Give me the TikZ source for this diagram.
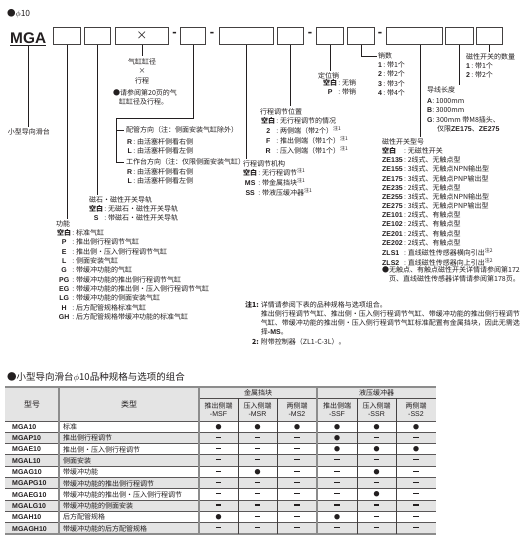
\documentclass[tikz,border=0pt]{standalone}
\usepackage{fontspec}
\setmainfont{Noto Sans CJK SC}
\newfontfamily\lb{Liberation Sans}
\definecolor{ink}{HTML}{231F20}
\definecolor{tgray}{HTML}{E4E4E4}
\definecolor{lgray}{HTML}{8C8C8C}
\newcommand\K[1]{{\lb\bfseries #1}}
\newcommand\Z[1]{\textsuperscript{注#1}}
\newcommand\kvc[1]{\begin{tabular}[t]{@{}c@{\hspace{1.2pt}:\hspace{1.8pt}}l@{}}#1\end{tabular}}
\newcommand\kvl[1]{\begin{tabular}[t]{@{}l@{\hspace{1.2pt}:\hspace{1.8pt}}l@{}}#1\end{tabular}}
\newcommand\onecol[1]{\begin{tabular}[t]{@{}l@{}}#1\end{tabular}}
\newcommand\cencol[1]{\begin{tabular}[t]{@{}c@{}}#1\end{tabular}}
\newcommand\nodash{\rule[1.9pt]{5.2pt}{1.2pt}}
\begin{document}
\begin{tikzpicture}[x=1pt,y=-1pt,
  txt/.style={font=\fontsize{7}{9.3}\selectfont, inner sep=0pt, anchor=base west, text=ink},
  cbox/.style={draw=ink!85, line width=0.8pt, minimum height=17pt, inner sep=0pt, anchor=north west},
  ln/.style={draw=ink, line width=0.6pt},
  lnend/.style={ln, shorten >=1.5pt},
  dsh/.style={font=\lb\bfseries\fontsize{13}{13}\selectfont, inner sep=0pt, text=ink},
  hd/.style={font=\fontsize{7}{8}\selectfont, inner sep=0pt, text=ink, align=center},
  cell/.style={font=\fontsize{7}{8}\selectfont, inner sep=0pt, text=ink},
  sym/.style={font=\fontsize{6}{6}\selectfont, inner sep=0pt, text=ink},
]
\useasboundingbox (0,0) rectangle (521,549);

% ---------- header ----------
\node[txt, font=\fontsize{8.5}{9}\selectfont] (phi) at (7,16.2) {●$\phi$10};
\node[font=\lb\bfseries\fontsize{15.4}{15.4}\selectfont, inner sep=0pt, anchor=base west, text=ink] (mga) at (10,43) {MGA};
\draw[ink, line width=1.1pt] ([yshift=-2.4pt]mga.south west) -- ([yshift=-2.4pt]mga.south east);
\coordinate (mgau) at ([yshift=-2.4pt]mga.south);

\node[cbox, minimum width=27pt] (b1) at (53,27) {};
\node[cbox, minimum width=26pt] (b2) at (84,27) {};
\node[cbox, minimum width=53pt, font=\fontsize{11}{11}\selectfont, text=ink] (b3) at (115,27) {×};
\node[dsh] (d1) at (174.5,34.5) {-};
\node[cbox, minimum width=25pt] (b4) at (180,27) {};
\node[dsh] (d2) at (212,34.5) {-};
\node[cbox, minimum width=54pt] (b5) at (219,27) {};
\node[cbox, minimum width=26pt] (b6) at (277,27) {};
\node[dsh] (d3) at (310,34.5) {-};
\node[cbox, minimum width=27pt] (b7) at (316,27) {};
\node[cbox, minimum width=27pt] (b8) at (347,27) {};
\node[dsh] (d4) at (380,34.5) {-};
\node[cbox, minimum width=56pt] (b9) at (386,27) {};
\node[cbox, minimum width=28pt] (b10) at (445,27) {};
\node[cbox, minimum width=26pt] (b11) at (476,27) {};

% ---------- MGA ----------
\node[txt, anchor=base] (lab0) at (29,134.6) {小型导向滑台};
\draw[lnend] (mgau) -- (mgau |- lab0.north);

% ---------- function ----------
\node[txt] (funcT) at (56,226.6) {功能};
\node[txt] (funcL) at (57,235.6) {\kvc{{\bfseries 空白}&标准气缸\\
 \K{P}&推出侧行程调节气缸\\
 \K{E}&推出侧·压入侧行程调节气缸\\
 \K{L}&侧面安装气缸\\
 \K{G}&带缓冲功能的气缸\\
 \K{PG}&带缓冲功能的推出侧行程调节气缸\\
 \K{EG}&带缓冲功能的推出侧·压入侧行程调节气缸\\
 \K{LG}&带缓冲功能的侧面安装气缸\\
 \K{H}&后方配管规格标准气缸\\
 \K{GH}&后方配管规格带缓冲功能的标准气缸}};
\draw[lnend] (b1.south) -- (b1.south |- funcT.north);

% ---------- magnet ----------
\node[txt] (magT) at (89,202.6) {磁石·磁性开关导轨};
\node[txt] (magL) at (89,211.6) {\kvc{{\bfseries 空白}&无磁石·磁性开关导轨\\ \K{S}&带磁石·磁性开关导轨}};
\draw[lnend] (b2.south) -- (b2.south |- magT.north);

% ---------- bore x stroke ----------
\node[txt, anchor=base] (boreT) at (142,64.6) {\cencol{气缸缸径\\×\\行程}};
\node[txt] (boreN) at (113,95.6) {\onecol{●请参阅第20页的气\\\hspace{6pt}缸缸径及行程。}};
\draw[lnend] (b3.south) -- (b3.south |- boreT.north);

% ---------- piping / table direction ----------
\coordinate (c4) at (116,118);
\node[txt] (pipeT) at (126,132.6) {配管方向（注：侧面安装气缸除外）};
\node[txt] (pipeL) at (127,144.4) {\kvc{\K{R}&由活塞杆侧看右侧\\ \K{L}&由活塞杆侧看左侧}};
\node[txt] (tableT) at (126,164.6) {工作台方向（注：仅限侧面安装气缸）};
\node[txt] (tableL) at (127,174.6) {\kvc{\K{R}&由活塞杆侧看右侧\\ \K{L}&由活塞杆侧看左侧}};
\draw[ln] (b4.south) |- (c4);
\draw[ln, shorten >=2.5pt] (c4) |- (pipeT.west);
\draw[ln, shorten >=2.5pt] (c4) |- (tableT.west);

% ---------- stroke adjust mechanism ----------
\node[txt] (mechT) at (243,166.6) {行程调节机构};
\node[txt] (mechL) at (243,175.6) {\kvc{{\bfseries 空白}&无行程调节\Z1\\ \K{MS}&带金属挡块\Z1\\ \K{SS}&带液压缓冲器\Z1}};
\draw[lnend] (b5.south) -- (b5.south |- mechT.north);

% ---------- stroke adjust position ----------
\node[txt] (posT) at (260,114.1) {行程调节位置};
\node[txt] (posL) at (261,123.4) {\kvc{{\bfseries 空白}&无行程调节的情况\\ \K{2}&两侧端（带2个）\Z1\\ \K{F}&推出侧端（带1个）\Z1\\ \K{R}&压入侧端（带1个）\Z1}};
\draw[lnend] (b6.south) -- (b6.south |- posT.north);

% ---------- locating pin ----------
\node[txt] (locT) at (318,78.6) {定位销};
\node[txt] (locL) at (323,85.4) {\kvc{{\bfseries 空白}&无销\\ \K{P}&带销}};
\draw[lnend] (b7.south) -- (b7.south |- locT.north);

% ---------- pin count ----------
\node[txt] (numT) at (378,58.6) {销数};
\node[txt] (numL) at (378,67.6) {\kvc{\K{1}&带1个\\ \K{2}&带2个\\ \K{3}&带3个\\ \K{4}&带4个}};
\draw[ln, shorten >=1pt] (b8.south) |- (numT.west);

% ---------- switch model ----------
\coordinate (b9x) at ([xshift=6pt]b9.south);
\node[txt] (swT) at (382,144.3) {磁性开关型号};
\node[txt, font=\fontsize{7}{9.17}\selectfont] (swL) at (382,153.6) {\kvl{{\bfseries 空白}&无磁性开关\\
 \K{ZE135}&2线式、无触点型\\
 \K{ZE155}&3线式、无触点NPN输出型\\
 \K{ZE175}&3线式、无触点PNP输出型\\
 \K{ZE235}&2线式、无触点型\\
 \K{ZE255}&3线式、无触点NPN输出型\\
 \K{ZE275}&3线式、无触点PNP输出型\\
 \K{ZE101}&2线式、有触点型\\
 \K{ZE102}&2线式、有触点型\\
 \K{ZE201}&2线式、有触点型\\
 \K{ZE202}&2线式、有触点型\\
 \K{ZLS1}&直线磁性传感器横向引出\Z2\\
 \K{ZLS2}&直线磁性传感器向上引出\Z2}};
\node[txt, font=\fontsize{7}{9.17}\selectfont] (swN) at (382,272.6) {\onecol{●无触点、有触点磁性开关详情请参阅第172\\\hspace{7pt}页、直线磁性传感器详情请参阅第178页。}};
\draw[lnend] (b9x) -- (b9x |- swT.north);

% ---------- lead wire ----------
\node[txt] (wireT) at (427,92.6) {导线长度};
\node[txt] (wireL) at (427,103.6) {\onecol{\K{A}: 1000mm\\ \K{B}: 3000mm\\ \K{G}: 300mm 带M8插头、\\ \hspace{10pt}仅限\K{ZE175}、\K{ZE275}}};
\draw[lnend] (b10.south) -- (b10.south |- wireT.north);

% ---------- switch count ----------
\node[txt] (cntT) at (466,59.9) {磁性开关的数量};
\node[txt] (cntL) at (466,68.6) {\kvc{\K{1}&带1个\\ \K{2}&带2个}};
\draw[lnend] (b11.south) -- (b11.south |- cntT.north);

% ---------- notes ----------
\node[txt, font=\fontsize{7}{8.8}\selectfont] (notes) at (245,307.6) {\begin{tabular}[t]{@{}r@{\hspace{2pt}}l@{}}
 {\bfseries 注1:} & 详情请参阅下表的品种规格与选项组合。\\
 & 推出侧行程调节气缸、推出侧·压入侧行程调节气缸、带缓冲功能的推出侧行程调节\\
 & 气缸、带缓冲功能的推出侧·压入侧行程调节气缸标准配置有金属挡块，因此无需选\\
 & 择\K{-MS}。\\[2pt]
 {\bfseries 2:} & 附带控制器（ZL1-C-3L）。
\end{tabular}};

% ---------- table ----------
\node[font=\fontsize{9.5}{11}\selectfont, inner sep=0pt, anchor=base west, text=ink] (tabT) at (7,380.8) {●小型导向滑台$\phi$10品种规格与选项的组合};

\fill[tgray] (5,387) rectangle (436,421);
\foreach \i in {1,3,5,7,9}{
  \fill[tgray] (5,421+11.3*\i) rectangle (436,421+11.3*\i+11.3);
}
% horizontal lines
\draw[lgray, line width=1.6pt] (5,387) -- (436,387);
\draw[ink!80, line width=0.6pt] (199,398) -- (436,398);
\foreach \i in {0,...,9}{
  \draw[ink!75, line width=0.9pt] (5,421+11.3*\i) -- (436,421+11.3*\i);
}
\draw[lgray, line width=1.6pt] (5,534) -- (436,534);
% vertical lines
\foreach \x in {59,199,317}{
  \draw[lgray, line width=1.1pt] (\x,387) -- (\x,534);
}
\foreach \x in {238,277,357,396}{
  \draw[ink!85, line width=0.6pt] (\x,398) -- (\x,534);
}
% header texts
\node[hd, font=\fontsize{8}{9}\selectfont] (h1) at (32,404) {型号};
\node[hd, font=\fontsize{8}{9}\selectfont] (h2) at (129,404) {类型};
\node[hd] (g1) at (258,392.8) {金属挡块};
\node[hd] (g2) at (376.5,392.8) {液压缓冲器};
\foreach \x/\a/\b [count=\j] in {218.5/推出侧端/-MSF,257.5/压入侧端/-MSR,297/两侧端/-MS2,337/推出侧端/-SSF,376.5/压入侧端/-SSR,416/两侧端/-SS2}{
  \node[hd] (s\j) at (\x,409.5) {\a\\{\lb\b}};
}
% data rows
\foreach \m/\t/\a/\b/\c/\d/\e/\f [count=\i from 0] in {
  MGA10/标准/1/1/1/1/1/1,
  MGAP10/推出侧行程调节/0/0/0/1/0/0,
  MGAE10/推出侧·压入侧行程调节/0/0/0/1/1/1,
  MGAL10/侧面安装/0/0/0/0/0/0,
  MGAG10/带缓冲功能/0/1/0/0/1/0,
  MGAPG10/带缓冲功能的推出侧行程调节/0/0/0/0/0/0,
  MGAEG10/带缓冲功能的推出侧·压入侧行程调节/0/0/0/0/1/0,
  MGALG10/带缓冲功能的侧面安装/0/0/0/0/0/0,
  MGAH10/后方配管规格/1/0/0/1/0/0,
  MGAGH10/带缓冲功能的后方配管规格/0/0/0/0/0/0}{
  \pgfmathsetmacro\yy{421+11.3*\i+5.9}
  \node[cell, anchor=west, font=\lb\bfseries\fontsize{7}{8}\selectfont] (m\i) at (12,\yy) {\m};
  \node[cell, anchor=west] (t\i) at (63,\yy) {\t};
  \foreach \v/\cx [count=\j] in {\a/218.5,\b/257.5,\c/297,\d/337,\e/376.5,\f/416}{
    \node[sym] (c\i-\j) at (\cx,\yy) {\ifnum\v=1 ●\else\nodash\fi};
  }
}
\end{tikzpicture}
\end{document}
